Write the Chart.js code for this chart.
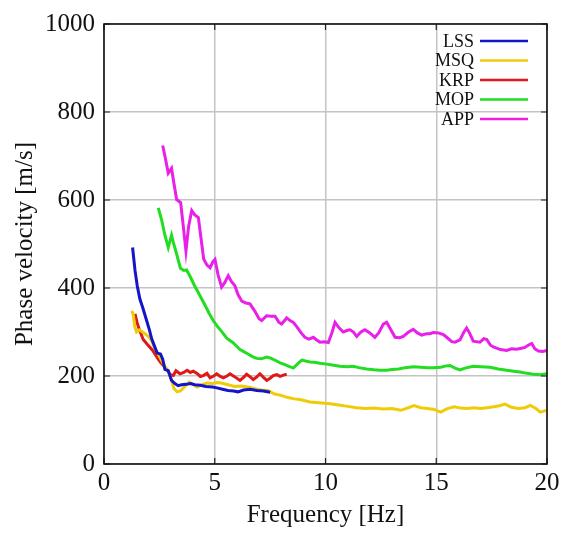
<!DOCTYPE html>
<html>
<head>
<meta charset="utf-8">
<script src="https://cdn.jsdelivr.net/npm/chart.js@4.4.0/dist/chart.umd.min.js"></script>
<style>
html,body{margin:0;padding:0;background:#fff;}
#wrap{width:574px;height:534px;position:relative;}
</style>
</head>
<body>
<div id="wrap"><canvas id="c" width="574" height="534"></canvas></div>
<script>
const seriesNames = ['LSS','MSQ','KRP','MOP','APP'];
const seriesColors = ['#1414c8','#f0cc08','#e01818','#22dd22','#e820e8'];

const lssFreq = [1.29,1.40,1.50,1.62,1.75,1.90,2.05,2.15,2.30,2.40,2.55,2.65,2.75,2.90,3.05,3.20,3.35,3.50,3.70,3.90,4.10,4.35,4.60,4.90,5.10,5.35,5.60,5.85,6.05,6.30,6.60,6.90,7.20,7.50];
const lssVel  = [492,440,405,375,355,330,305,285,265,252,250,238,215,212,190,183,178,180,181,183,180,179,176,175,173,170,167,166,164,168,170,167,166,163];

const msqFreq = [1.25,1.32,1.40,1.47,1.60,1.85,2.00,2.15,2.30,2.45,2.60,2.75,2.90,3.05,3.15,3.30,3.45,3.65,3.85,4.00,4.20,4.40,4.65,4.90,5.10,5.30,5.60,5.90,6.20,6.50,6.80,7.10,7.40,7.70,8.00,8.30,8.60,8.90,9.30,9.70,10.2,10.6,11.0,11.4,11.8,12.2,12.6,13.0,13.4,13.8,14.0,14.3,14.6,14.9,15.2,15.5,15.8,16.1,16.4,16.7,17.0,17.3,17.6,17.9,18.1,18.4,18.7,19.0,19.25,19.5,19.7,20.0];
const msqVel  = [348,340,310,300,305,296,290,280,262,250,235,222,212,190,172,164,166,176,186,182,175,180,184,183,185,184,180,176,177,175,171,168,167,159,156,151,148,146,141,139,137,134,131,128,126,127,125,126,122,129,133,128,126,124,118,126,130,127,126,128,126,128,130,133,136,129,126,128,133,126,118,122];

const krpFreq = [1.40,1.50,1.60,1.77,1.95,2.08,2.20,2.30,2.45,2.55,2.75,2.90,3.00,3.13,3.25,3.43,3.60,3.75,3.90,4.03,4.20,4.35,4.48,4.65,4.79,4.95,5.09,5.25,5.39,5.55,5.69,5.91,6.14,6.30,6.44,6.60,6.74,6.90,7.04,7.20,7.35,7.50,7.64,7.80,7.95,8.10,8.25];
const krpVel  = [341,320,305,283,272,265,258,250,238,231,220,210,203,201,212,205,208,213,208,211,206,199,201,206,196,200,205,199,196,200,205,198,190,197,204,198,192,198,205,197,190,195,201,203,199,202,204];

const mopFreq = [2.45,2.60,2.75,2.90,3.05,3.15,3.28,3.45,3.60,3.73,3.90,4.10,4.33,4.55,4.75,4.93,5.10,5.30,5.54,5.84,6.00,6.14,6.29,6.50,6.70,6.89,7.10,7.34,7.50,7.64,7.80,7.95,8.17,8.35,8.55,8.75,8.93,9.10,9.30,9.50,9.75,10.05,10.30,10.65,11.0,11.26,11.5,11.86,12.2,12.46,12.76,13.0,13.3,13.6,13.96,14.3,14.6,14.87,15.2,15.45,15.62,15.85,16.07,16.3,16.67,17.0,17.43,17.8,18.18,18.5,18.78,19.1,19.38,19.7,20.0];
const mopVel  = [582,555,520,492,520,500,477,445,440,441,425,404,383,362,342,326,314,302,286,275,267,260,256,250,244,240,239,243,241,238,234,230,226,222,218,228,236,234,232,231,229,227,225,222,221,222,219,216,214,213,213,215,216,219,221,220,219,219,220,223,224,218,214,218,222,221,220,216,213,211,209,206,204,203,205];

const appFreq = [2.65,2.75,2.90,3.05,3.15,3.28,3.46,3.58,3.70,3.82,3.96,4.10,4.26,4.40,4.50,4.65,4.79,4.92,5.01,5.15,5.31,5.45,5.61,5.75,5.91,6.05,6.22,6.40,6.59,6.80,7.00,7.12,7.34,7.55,7.72,7.90,8.02,8.25,8.40,8.55,8.70,8.90,9.07,9.25,9.45,9.60,9.75,9.95,10.13,10.30,10.43,10.60,10.80,11.0,11.11,11.26,11.41,11.60,11.78,12.0,12.23,12.40,12.61,12.76,12.95,13.14,13.35,13.51,13.75,13.96,14.15,14.34,14.55,14.72,14.87,15.09,15.32,15.47,15.70,15.85,16.07,16.25,16.37,16.50,16.67,16.97,17.15,17.28,17.45,17.58,17.9,18.18,18.4,18.63,18.85,19.0,19.15,19.31,19.45,19.61,19.8,20.0];
const appVel  = [724,700,661,672,640,601,594,540,484,540,576,566,560,505,466,452,446,460,465,430,402,412,428,415,405,385,370,366,364,348,330,326,337,336,336,322,318,332,326,322,312,298,288,284,288,282,277,278,276,300,322,310,300,304,305,300,290,300,305,298,288,298,318,322,305,288,287,290,300,306,298,293,296,296,299,298,294,288,278,277,282,300,309,298,279,277,285,283,270,266,260,258,262,261,263,265,270,274,262,257,256,258];

const xTicks = [0,5,10,15,20];
const yTicks = [0,200,400,600,800,1000];
const xTitle = 'Frequency [Hz]';
const yTitle = 'Phase velocity [m/s]';

const freqs = [lssFreq, msqFreq, krpFreq, mopFreq, appFreq];
const vels = [lssVel, msqVel, krpVel, mopVel, appVel];

const datasets = seriesNames.map((name, i) => ({
  label: name,
  data: freqs[i].map((f, j) => ({x: f, y: vels[i][j]})),
  borderColor: seriesColors[i],
  backgroundColor: seriesColors[i],
  borderWidth: 3,
  pointRadius: 0,
  tension: 0,
  fill: false
}));

const SERIF = '"Liberation Serif","DejaVu Serif",serif';

const framePlugin = {
  id: 'frame',
  afterDatasetsDraw(chart) {
    const {ctx, chartArea: a, scales} = chart;
    ctx.save();
    ctx.strokeStyle = '#222';
    ctx.lineWidth = 1.2;
    const L = 6;
    xTicks.forEach(t => {
      const px = scales.x.getPixelForValue(t);
      ctx.beginPath();
      ctx.moveTo(px, a.bottom); ctx.lineTo(px, a.bottom - L);
      ctx.moveTo(px, a.top); ctx.lineTo(px, a.top + L);
      ctx.stroke();
    });
    yTicks.forEach(t => {
      const py = scales.y.getPixelForValue(t);
      ctx.beginPath();
      ctx.moveTo(a.left, py); ctx.lineTo(a.left + L, py);
      ctx.moveTo(a.right, py); ctx.lineTo(a.right - L, py);
      ctx.stroke();
    });
    ctx.strokeStyle = '#111';
    ctx.lineWidth = 1.6;
    ctx.strokeRect(a.left, a.top, a.right - a.left, a.bottom - a.top);
    ctx.font = '18px ' + SERIF;
    ctx.textAlign = 'right';
    ctx.textBaseline = 'middle';
    seriesNames.forEach((n, i) => {
      const y = a.top + 17 + i * 19.5;
      ctx.fillStyle = '#111';
      ctx.fillText(n, a.right - 73, y + 1);
      ctx.strokeStyle = seriesColors[i];
      ctx.lineWidth = 2.6;
      ctx.beginPath();
      ctx.moveTo(a.right - 67, y);
      ctx.lineTo(a.right - 19, y);
      ctx.stroke();
    });
    ctx.restore();
  }
};

new Chart(document.getElementById('c'), {
  type: 'line',
  data: {datasets},
  options: {
    responsive: false,
    animation: false,
    events: [],
    layout: {padding: {left: 0, top: 22, right: 27, bottom: 0}},
    plugins: {legend: {display: false}, tooltip: {enabled: false}},
    scales: {
      x: {
        type: 'linear', min: 0, max: 20,
        afterFit(s) { s.height = 70; },
        afterBuildTicks(s) { s.ticks = xTicks.map(v => ({value: v})); },
        grid: {color: '#c4c4c4', lineWidth: 1.5, drawTicks: false},
        border: {display: false},
        ticks: {color: '#111', font: {family: SERIF, size: 25}, padding: 4, maxRotation: 0, callback: v => String(v)},
        title: {display: true, text: xTitle, color: '#111', font: {family: SERIF, size: 25}, padding: {top: 0, bottom: 4}}
      },
      y: {
        type: 'linear', min: 0, max: 1000,
        afterFit(s) { s.width = 104; },
        afterBuildTicks(s) { s.ticks = yTicks.map(v => ({value: v})); },
        grid: {color: '#c4c4c4', lineWidth: 1.5, drawTicks: false},
        border: {display: false},
        ticks: {color: '#111', font: {family: SERIF, size: 25}, padding: 9, callback: v => String(v)},
        title: {display: true, text: yTitle, color: '#111', font: {family: SERIF, size: 25}, padding: {top: 10, bottom: 0}}
      }
    }
  },
  plugins: [framePlugin]
});
</script>
</body>
</html>
